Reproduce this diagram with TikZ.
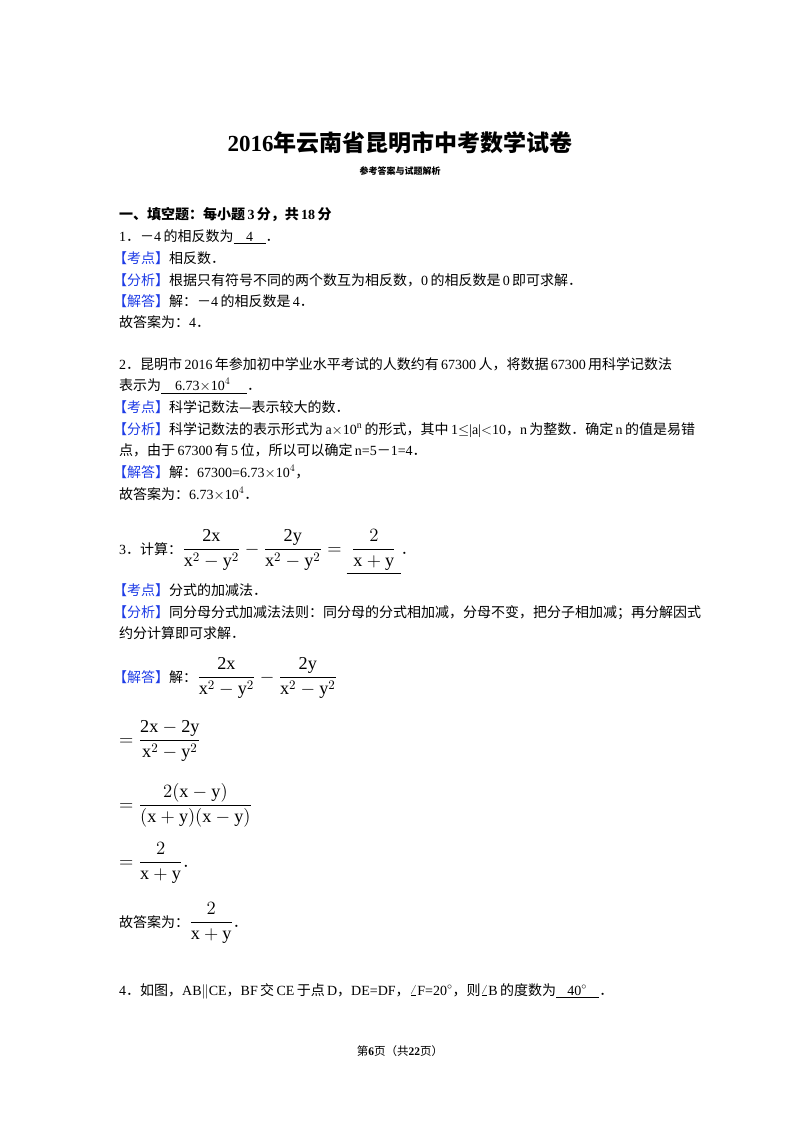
\documentclass[tikz,border=0pt]{standalone}
\usepackage{amsmath}
\usepackage{fontspec}
\setmainfont{Liberation Serif}
\newfontfamily\zhf{Noto Sans CJK SC}
\newcommand{\zh}[1]{{\zhf #1}}
\definecolor{lblue}{RGB}{30,60,230}
\newcommand{\tagl}[1]{{\color{lblue}\zhf 【#1】}}
\newcommand{\bfr}[1]{\scalebox{1.3}{#1}}
\begin{document}
\begin{tikzpicture}[x=1pt,y=-1pt,
  ln/.style={anchor=base west,inner sep=0pt,font=\fontsize{14}{16}\selectfont},
  lnb/.style={ln,font=\fontsize{14}{16}\selectfont\bfseries}]
\useasboundingbox (0,0) rectangle (800,1132);
\node[anchor=base,inner sep=0pt,font=\fontsize{23}{26}\selectfont\bfseries] (t) at (400,151) {2016\zh{\bfseries 年云南省昆明市中考数学试卷}};
\node[anchor=base,inner sep=0pt,font=\fontsize{9}{10}\selectfont] (st) at (400,174) {\zh{\bfseries 参考答案与试题解析}};
\node[lnb] (s1) at (119,219) {\zh{\bfseries 一、填空题：每小题}\,3\,\zh{\bfseries 分，共}\,18\,\zh{\bfseries 分}};
\node[ln] (q1) at (119,241) {1\zh{．}\zh{－}4\,\zh{的相反数为}\underline{\hspace{0.9em}4\hspace{0.9em}}\zh{．}};
\node[ln] (k1) at (113,263) {\tagl{考点}\zh{相反数．}};
\node[ln] (f1) at (113,285) {\tagl{分析}\zh{根据只有符号不同的两个数互为相反数，}0\,\zh{的相反数是}\,0\,\zh{即可求解．}};
\node[ln] (j1) at (113,306) {\tagl{解答}\zh{解：－}4\,\zh{的相反数是}\,4\zh{．}};
\node[ln] (g1) at (119,327) {\zh{故答案为：}4\zh{．}};

\node[ln] (q2) at (119,369) {2\zh{．昆明市}\,2016\,\zh{年参加初中学业水平考试的人数约有}\,67300\,\zh{人，将数据}\,67300\,\zh{用科学记数法}};
\node[ln] (q2b) at (119,390) {\zh{表示为}\underline{\hspace{1em}6.73$\times$10$^4$\hspace{1.2em}}\zh{．}};
\node[ln] (k2) at (113,412) {\tagl{考点}\zh{科学记数法—表示较大的数．}};
\node[ln] (f2) at (113,434) {\tagl{分析}\zh{科学记数法的表示形式为}\,a$\times$10$^{\mathrm{n}}$\,\zh{的形式，其中}\,1$\leq$|a|$<$10\zh{，}n\,\zh{为整数．确定}\,n\,\zh{的值是易错}};
\node[ln] (f2b) at (119,455) {\zh{点，由于}\,67300\,\zh{有}\,5\,\zh{位，所以可以确定}\,n=5\zh{－}1=4\zh{．}};
\node[ln] (j2) at (113,477) {\tagl{解答}\zh{解：}67300=6.73$\times$10$^4$\zh{，}};
\node[ln] (g2) at (119,499) {\zh{故答案为：}6.73$\times$10$^4$\zh{．}};

\node[ln] (q3) at (119,554) {3\zh{．计算：}\bfr{$\dfrac{\mathrm{2x}}{\mathrm{x}^2-\mathrm{y}^2}-\dfrac{\mathrm{2y}}{\mathrm{x}^2-\mathrm{y}^2}=\underline{\;\dfrac{2}{\mathrm{x+y}}\;}$}\zh{．}};
\node[ln] (k3) at (113,595) {\tagl{考点}\zh{分式的加减法．}};
\node[ln] (f3) at (113,617) {\tagl{分析}\zh{同分母分式加减法法则：同分母的分式相加减，分母不变，把分子相加减；再分解因式}};
\node[ln] (f3b) at (119,638) {\zh{约分计算即可求解．}};
\node[ln] (j3) at (113,682) {\tagl{解答}\zh{解：}\bfr{$\dfrac{\mathrm{2x}}{\mathrm{x}^2-\mathrm{y}^2}-\dfrac{\mathrm{2y}}{\mathrm{x}^2-\mathrm{y}^2}$}};
\node[ln] (e1) at (119,745) {\bfr{$=\dfrac{\mathrm{2x}-\mathrm{2y}}{\mathrm{x}^2-\mathrm{y}^2}$}};
\node[ln] (e2) at (119,810) {\bfr{$=\dfrac{2(\mathrm{x}-\mathrm{y})}{(\mathrm{x+y})(\mathrm{x}-\mathrm{y})}$}};
\node[ln] (e3) at (119,867) {\bfr{$=\dfrac{2}{\mathrm{x+y}}$}\zh{．}};
\node[ln] (g3) at (119,927) {\zh{故答案为：}\bfr{$\dfrac{2}{\mathrm{x+y}}$}\zh{．}};

\node[ln] (q4) at (119,995) {4\zh{．如图，}AB$\parallel$CE\zh{，}BF\,\zh{交}\,CE\,\zh{于点}\,D\zh{，}DE=DF\zh{，}$\angle$F=20$^\circ$\zh{，则}$\angle$B\,\zh{的度数为}\underline{\hspace{0.8em}40$^\circ$\hspace{0.9em}}\zh{．}};

\node[anchor=base,inner sep=0pt,font=\fontsize{11.5}{13}\selectfont] (ft) at (400,1055) {\zh{第}\textbf{6}\zh{页（共}\textbf{22}\zh{页）}};
\end{tikzpicture}
\end{document}
